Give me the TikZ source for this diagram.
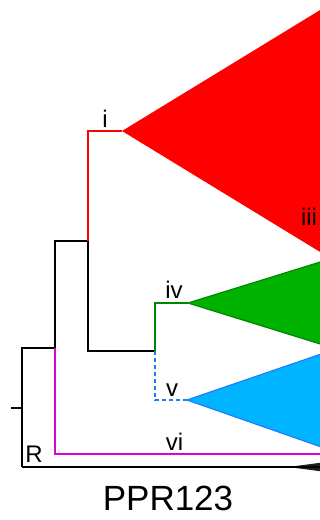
\documentclass[tikz,border=0pt]{standalone}
\usepackage{fontspec}
\setmainfont{Liberation Sans}
\begin{document}
\begin{tikzpicture}[x=1pt,y=-1pt,
  br/.style={line width=1.5pt},
  lbl/.style={anchor=base,inner sep=0pt,font=\fontsize{24}{28}\selectfont},
  ttl/.style={anchor=base,inner sep=0pt,font=\fontsize{35}{40}\selectfont}]
\definecolor{cgreenf}{RGB}{0,178,0}
\definecolor{cgreend}{RGB}{0,135,0}
\definecolor{cbluef}{RGB}{0,180,255}
\definecolor{cblued}{RGB}{30,125,255}
\definecolor{cmag}{RGB}{220,0,220}
\definecolor{cdark}{RGB}{30,30,30}
\useasboundingbox (0,0) rectangle (320,520);
\begin{scope}
\clip (0,0) rectangle (320,520);
% coordinates
\coordinate (tick) at (11,408);
\coordinate (root) at (22,408);
\coordinate (rootTop) at (22,348);
\coordinate (rootBot) at (22,467);
\coordinate (n1) at (55,348);
\coordinate (n1Top) at (55,241);
\coordinate (n1Bot) at (55,454);
\coordinate (n2) at (88,241);
\coordinate (n2Top) at (88,131);
\coordinate (n2Bot) at (88,351);
\coordinate (n3) at (155,351);
\coordinate (n3Top) at (155,303);
\coordinate (n3Bot) at (155,400);
\coordinate (redApex) at (122,131);
\coordinate (greenApex) at (188,303);
\coordinate (blueApex) at (187,400);
\coordinate (magEnd) at (330,454);
\coordinate (blkApex) at (288,467);
\coordinate (blkEnd) at (330,467);
% clades
\fill[red] (redApex) -- (330,4) -- (330,258) -- cycle;
\filldraw[fill=cgreenf,draw=cgreend,line width=1.2pt] (greenApex) -- (330,259) -- (330,347) -- cycle;
\filldraw[fill=cbluef,draw=cblued,line width=1.2pt] (blueApex) -- (330,351) -- (330,450) -- cycle;
\fill[cdark] (blkApex) -- (330,461.5) -- (330,472.5) -- cycle;
% branches
\draw[br] (tick) -- (root);
\draw[br] (rootBot) -- (rootTop) -- (n1);
\draw[br] (n1) -- (n1Top) -- (n2);
\draw[br] (n2) -- (n2Bot) -- (n3);
\draw[br,red] (n2) -- (n2Top) -- (redApex);
\draw[br,cgreend] (n3) -- (n3Top) -- (greenApex);
\draw[br,cblued,dash pattern=on 4pt off 3pt] (n3) -- (n3Bot) -- (blueApex);
\draw[br,cmag] (n1) -- (n1Bot) -- (magEnd);
\draw[br] (rootBot) -- (blkEnd);
\end{scope}
% labels
\node[lbl] (li) at (105,127) {i};
\node[lbl] (liii) at (309,225) {iii};
\node[lbl] (liv) at (174,298) {iv};
\node[lbl] (lv) at (172,396.5) {v};
\node[lbl] (lvi) at (174.5,450.5) {vi};
\node[lbl] (lR) at (34,462) {R};
\node[ttl] (title) at (168,510) {PPR123};
\end{tikzpicture}
\end{document}
